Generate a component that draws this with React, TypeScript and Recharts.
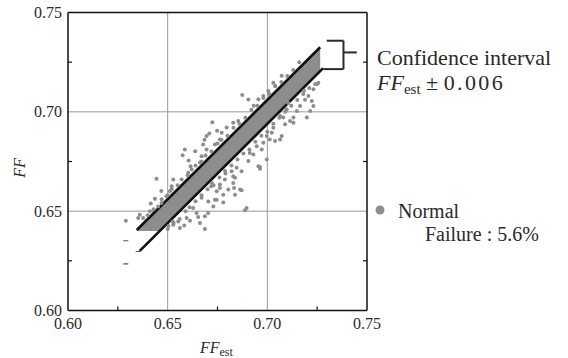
import { ComposedChart, XAxis, YAxis, CartesianGrid, Scatter, Line, Area, ReferenceLine } from 'recharts'

// axis ticks
const majorTicks = [0.6, 0.65, 0.7, 0.75]
const minorTicks = [0.625, 0.675, 0.725]
const allTicks = [0.6, 0.625, 0.65, 0.675, 0.7, 0.725, 0.75]
const gridValues = [0.65, 0.7]

// gray band (dense points inside FF_est ± 0.006, FF clipped at 0.640)
const bandEst = [0.6345, 0.646, 0.7265]
const bandLow = [0.64, 0.64, 0.7205]
const bandHigh = [0.6405, 0.652, 0.7325]

// confidence interval lines
const upperEst = [0.6345, 0.7265]
const upperFF = [0.6405, 0.7325]
const lowerEst = [0.636, 0.728]
const lowerFF = [0.63, 0.722]

// scattered points outside the band [FF_est, FF]
const outliers: [number, number][] = [
  [0.6586, 0.6811], [0.6575, 0.6782], [0.6444, 0.6663], [0.6615, 0.6726], [0.6603, 0.6693],
  [0.6528, 0.6659], [0.652, 0.6625], [0.6511, 0.66], [0.6494, 0.6575], [0.6469, 0.6541],
  [0.6452, 0.6524], [0.636, 0.6482], [0.6352, 0.6466], [0.6377, 0.6466], [0.629, 0.6452],
  [0.6411, 0.6499], [0.6722, 0.6642], [0.6718, 0.6625], [0.6746, 0.66], [0.6762, 0.6634],
  [0.6787, 0.6659], [0.6704, 0.6549], [0.6737, 0.6558], [0.667, 0.6567], [0.6653, 0.6471],
  [0.6687, 0.6474], [0.6662, 0.644], [0.6687, 0.641], [0.6595, 0.6466], [0.6553, 0.6448],
  [0.6561, 0.6415], [0.6528, 0.6432], [0.6504, 0.6425], [0.6525, 0.6448], [0.6628, 0.6516],
  [0.6645, 0.6491], [0.6874, 0.7085], [0.6724, 0.6948], [0.6695, 0.6878], [0.6709, 0.6891],
  [0.6771, 0.6895], [0.6762, 0.6861], [0.6737, 0.6836], [0.6678, 0.6836], [0.6695, 0.6811],
  [0.667, 0.6777], [0.6829, 0.6945], [0.6854, 0.6954], [0.7064, 0.6979], [0.7089, 0.6937],
  [0.7114, 0.6954], [0.7131, 0.6945], [0.703, 0.692], [0.7022, 0.6895], [0.6997, 0.6878],
  [0.7072, 0.6878], [0.7039, 0.6853], [0.7064, 0.6861], [0.698, 0.6844], [0.6947, 0.6827],
  [0.6972, 0.6811], [0.6997, 0.676], [0.693, 0.6785], [0.6905, 0.6752], [0.6955, 0.6726],
  [0.6963, 0.6713], [0.6871, 0.6701], [0.6846, 0.6718], [0.6829, 0.6676], [0.6863, 0.6609],
  [0.6838, 0.6583], [0.6804, 0.6609], [0.6779, 0.6583], [0.6762, 0.6617], [0.6746, 0.6558],
  [0.6729, 0.6524], [0.6779, 0.6543], [0.6896, 0.6516], [0.7072, 0.7181], [0.703, 0.7147],
  [0.7039, 0.713], [0.7005, 0.7105], [0.6955, 0.7063], [0.698, 0.708], [0.7248, 0.7139],
  [0.7256, 0.7147], [0.7231, 0.7114], [0.7206, 0.708], [0.7223, 0.7055], [0.7231, 0.7029],
  [0.7215, 0.7004], [0.7198, 0.6971], [0.7131, 0.6971], [0.7164, 0.7029], [0.7148, 0.7004],
  [0.708, 0.6971], [0.7097, 0.7013], [0.6821, 0.6701], [0.6838, 0.6668], [0.6829, 0.6642],
  [0.6833, 0.6617], [0.6871, 0.6605], [0.6888, 0.6504], [0.6963, 0.6722],
  [0.6605, 0.6755], [0.6638, 0.6801], [0.6662, 0.6745], [0.6685, 0.6859], [0.6748, 0.6905],
  [0.6796, 0.6921], [0.6905, 0.7062], [0.6932, 0.7031], [0.6468, 0.6601], [0.6436, 0.6562],
  [0.6415, 0.6538], [0.6583, 0.6428], [0.6612, 0.6452], [0.6703, 0.6491], [0.6788, 0.6702],
  [0.6912, 0.6793], [0.7012, 0.6861], [0.7105, 0.7044], [0.7189, 0.7061], [0.7184, 0.7106],
]

// points hugging the outside of the band
const edgePoints: [number, number][] = [
  [0.64, 0.648], [0.643, 0.651], [0.647, 0.656], [0.65, 0.658], [0.652, 0.661], [0.655, 0.663],
  [0.657, 0.666], [0.66, 0.668], [0.662, 0.671], [0.664, 0.673], [0.667, 0.675], [0.669, 0.678],
  [0.672, 0.68], [0.675, 0.684], [0.677, 0.686], [0.68, 0.688], [0.683, 0.692], [0.686, 0.694],
  [0.689, 0.697], [0.692, 0.701], [0.695, 0.703], [0.698, 0.707], [0.701, 0.709], [0.704, 0.713],
  [0.707, 0.715], [0.71, 0.718], [0.713, 0.721], [0.716, 0.725],
  [0.65, 0.641], [0.653, 0.644], [0.656, 0.646], [0.659, 0.65], [0.661, 0.652], [0.664, 0.655],
  [0.667, 0.658], [0.67, 0.661], [0.673, 0.663], [0.676, 0.667], [0.679, 0.669], [0.682, 0.673],
  [0.685, 0.676], [0.688, 0.679], [0.691, 0.681], [0.694, 0.685], [0.697, 0.688], [0.7, 0.69],
  [0.703, 0.694], [0.706, 0.697], [0.709, 0.7], [0.712, 0.703], [0.715, 0.706], [0.718, 0.709],
  [0.721, 0.712], [0.724, 0.714],
]

// short dash marks left of the band
const dashes: [number, number][] = [[0.629, 0.6351], [0.629, 0.6235], [0.6352, 0.6297]]

const serif = "'Liberation Serif', 'Times New Roman', Times, 'Noto Serif', 'DejaVu Serif', serif"
const gray = '#8d8d8d'
const ink = '#2a2a2a'
const textStyle = { fontFamily: serif }

const bandData = bandEst.map((x, i) => ({ x, range: [bandLow[i], bandHigh[i]] }))
const upperData = upperEst.map((x, i) => ({ x, y: upperFF[i] }))
const lowerData = lowerEst.map((x, i) => ({ x, y: lowerFF[i] }))
const pointData = [...outliers, ...edgePoints].map(([x, y]) => ({ x, y }))
const dashData = dashes.map(([x, y]) => ({ x, y }))

const isMinor = (v: number) => minorTicks.some(m => Math.abs(m - v) < 1e-6)
const isMajor = (v: number) => majorTicks.some(m => Math.abs(m - v) < 1e-6)

function BottomTick({ x, y, payload }: any) {
  const v = payload.value
  if (isMinor(v)) return <line x1={x} y1={y} x2={x} y2={y - 4} stroke="#111" strokeWidth={1.2} />
  if (!isMajor(v)) return null
  return <text x={x} y={y + 18} textAnchor="middle" fontSize={16} fontFamily={serif} style={textStyle} fill={ink}>{v.toFixed(2)}</text>
}

function LeftTick({ x, y, payload }: any) {
  const v = payload.value
  if (isMinor(v)) return <line x1={x} y1={y} x2={x + 4} y2={y} stroke="#111" strokeWidth={1.2} />
  if (!isMajor(v)) return null
  return <text x={x - 6} y={y + 5.5} textAnchor="end" fontSize={16} fontFamily={serif} style={textStyle} fill={ink}>{v.toFixed(2)}</text>
}

function TopTick({ x, y, payload }: any) {
  if (!isMinor(payload.value)) return null
  return <line x1={x} y1={y} x2={x} y2={y + 4} stroke="#111" strokeWidth={1.2} />
}

function RightTick({ x, y, payload }: any) {
  if (!isMinor(payload.value)) return null
  return <line x1={x} y1={y} x2={x - 4} y2={y} stroke="#111" strokeWidth={1.2} />
}

const axisLine = { stroke: '#111', strokeWidth: 1.5 }
const dom: [number, number] = [0.6, 0.75]

export default function App() {
  return (
    <div style={{ position: 'relative', width: 568, height: 358, background: '#fff', fontFamily: serif }}>
      <style>{'body{margin:0}'}</style>
      <ComposedChart width={568} height={358} margin={{ top: 11.5, right: 200, bottom: 17.5, left: 8 }}>
        <CartesianGrid stroke="#9a9a9a" strokeWidth={1} horizontalValues={gridValues} verticalValues={gridValues} />
        <XAxis dataKey="x" type="number" domain={dom} allowDataOverflow ticks={allTicks} interval={0}
          height={30} tickSize={0} tickMargin={0} axisLine={axisLine} tickLine={false}
          tick={(p: any) => <BottomTick {...p} />} />
        <XAxis xAxisId="top" orientation="top" type="number" domain={dom} allowDataOverflow ticks={allTicks}
          interval={0} height={1} tickSize={0} tickMargin={0} axisLine={axisLine} tickLine={false}
          tick={(p: any) => <TopTick {...p} />} />
        <YAxis type="number" domain={dom} allowDataOverflow ticks={allTicks} interval={0} width={60}
          tickSize={0} tickMargin={0} axisLine={axisLine} tickLine={false}
          tick={(p: any) => <LeftTick {...p} />} />
        <YAxis yAxisId="right" orientation="right" type="number" domain={dom} allowDataOverflow ticks={allTicks}
          interval={0} width={1} tickSize={0} tickMargin={0} axisLine={axisLine} tickLine={false}
          tick={(p: any) => <RightTick {...p} />} />

        <Area data={bandData} dataKey="range" type="linear" fill={gray} fillOpacity={1} stroke="none"
          isAnimationActive={false} />
        <Scatter data={pointData} dataKey="y" isAnimationActive={false}
          shape={(p: any) => <circle cx={p.cx} cy={p.cy} r={2} fill={gray} />} />
        <Scatter data={dashData} dataKey="y" isAnimationActive={false}
          shape={(p: any) => <line x1={p.cx - 2.5} x2={p.cx + 2.5} y1={p.cy} y2={p.cy} stroke="#555" strokeWidth={1.2} />} />
        <Line data={upperData} dataKey="y" type="linear" stroke="#111" strokeWidth={2.6} dot={false} isAnimationActive={false} />
        <Line data={lowerData} dataKey="y" type="linear" stroke="#111" strokeWidth={2.6} dot={false} isAnimationActive={false} />

        {/* bracket for the confidence interval */}
        <ReferenceLine segment={[{ x: 0.7298, y: 0.7358 }, { x: 0.7382, y: 0.7358 }]} stroke={ink} strokeWidth={2} />
        <ReferenceLine segment={[{ x: 0.7382, y: 0.7358 }, { x: 0.7382, y: 0.7215 }]} stroke={ink} strokeWidth={2} />
        <ReferenceLine segment={[{ x: 0.7281, y: 0.7215 }, { x: 0.7382, y: 0.7215 }]} stroke={ink} strokeWidth={2} />
        <ReferenceLine segment={[{ x: 0.7382, y: 0.7299 }, { x: 0.7449, y: 0.7299 }]} stroke={ink} strokeWidth={2} />
      </ComposedChart>

      <svg width={568} height={358} style={{ position: 'absolute', left: 0, top: 0, pointerEvents: 'none' }}>
        <g fontFamily={serif} fill={ink}>
          <text transform="translate(25,168) rotate(-90)" textAnchor="middle" fontSize={16} fontStyle="italic">FF</text>
          <text x={200} y={353} fontSize={16}>
            <tspan fontStyle="italic">FF</tspan>
            <tspan fontSize={12} dy={3}>est</tspan>
          </text>
          <text x={377} y={64.5} fontSize={22}>Confidence interval</text>
          <text x={377} y={89.5} fontSize={22}>
            <tspan fontStyle="italic">FF</tspan>
            <tspan fontSize={15} dy={4}>est</tspan>
            <tspan dy={-4}> ± </tspan>
            <tspan letterSpacing={2.4}>0.006</tspan>
          </text>
          <circle cx={380} cy={210} r={4.5} fill={gray} />
          <text x={398} y={217.5} fontSize={20}>Normal</text>
          <text x={425} y={240.5} fontSize={20}>Failure : 5.6%</text>
        </g>
      </svg>
    </div>
  )
}
